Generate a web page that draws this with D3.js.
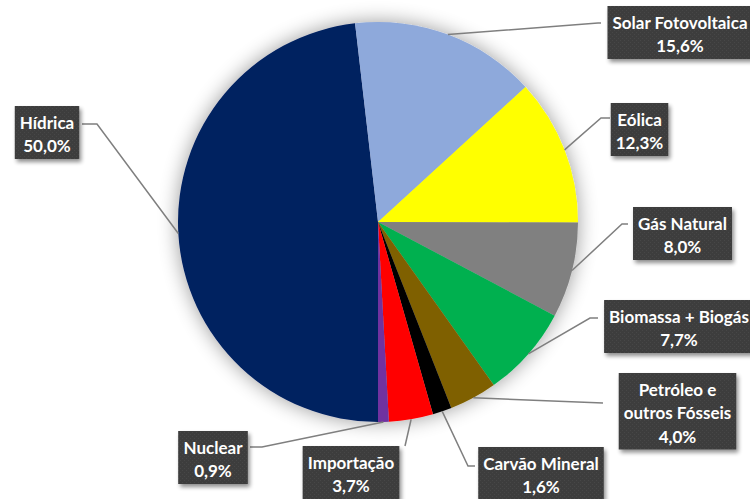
<!DOCTYPE html>
<html><head><meta charset="utf-8">
<script src="https://cdn.jsdelivr.net/npm/d3@7"></script>
<style>html,body{margin:0;padding:0;background:#fff;overflow:hidden}svg{display:block}</style>
</head><body>
<svg id="chart" width="750" height="499"></svg>
<script>
// ---- data ----
const categories = ["Hídrica","Solar Fotovoltaica","Eólica","Gás Natural","Biomassa + Biogás","Petróleo e outros Fósseis","Carvão Mineral","Importação","Nuclear"];
const values = [50.0,15.6,12.3,8.0,7.7,4.0,1.6,3.7,0.9];
const valueLabels = ["50,0%","15,6%","12,3%","8,0%","7,7%","4,0%","1,6%","3,7%","0,9%"];
const labelLines = [["Hídrica"],["Solar Fotovoltaica"],["Eólica"],["Gás Natural"],["Biomassa + Biogás"],["Petróleo e","outros Fósseis"],["Carvão Mineral"],["Importação"],["Nuclear"]];
const colors = ["#002060","#8EA9DB","#FFFF00","#808080","#00B050","#7F6000","#000000","#FF0000","#7030A0"];

// ---- layout (label boxes: center x, top y; leader elbow & attach points) ----
const boxCx = [47,680,639.5,682.5,679,677.5,541,351,213];
const boxTop = [106,6,103,207,300,373,447,446,431];
const elbows = [[97,124],[598,23],[601,118],[622,224],[590,318],[603,403],[468,466],[405,446],[262,447]];
const attach = [[82,124],[601,23],[610,118],[628,224],[598,318],[603,403],[475,466],[405,446],[250,447]];

const svg = d3.select("#chart");
const cx = 378, cy = 222, R = 200;
const defs = svg.append("defs");
const sh = defs.append("filter").attr("id","pieShadow").attr("x","-30%").attr("y","-30%").attr("width","160%").attr("height","160%");
sh.append("feGaussianBlur").attr("in","SourceAlpha").attr("stdDeviation",10).attr("result","b");
sh.append("feComponentTransfer").attr("in","b").attr("result","b2").append("feFuncA").attr("type","linear").attr("slope",0.4);
const m = sh.append("feMerge"); m.append("feMergeNode").attr("in","b2"); m.append("feMergeNode").attr("in","SourceGraphic");

const bs = defs.append("filter").attr("id","boxShadow").attr("x","-20%").attr("y","-20%").attr("width","150%").attr("height","160%");
bs.append("feGaussianBlur").attr("in","SourceAlpha").attr("stdDeviation",2).attr("result","b");
bs.append("feOffset").attr("in","b").attr("dx",2).attr("dy",3).attr("result","o");
bs.append("feComponentTransfer").attr("in","o").attr("result","o2").append("feFuncA").attr("type","linear").attr("slope",0.45);
const m2 = bs.append("feMerge"); m2.append("feMergeNode").attr("in","o2"); m2.append("feMergeNode").attr("in","SourceGraphic");

const pat = defs.append("pattern").attr("id","dots").attr("width",4).attr("height",4).attr("patternUnits","userSpaceOnUse");
pat.append("rect").attr("width",4).attr("height",4).attr("fill","#3D3D3D");
pat.append("rect").attr("x",0).attr("y",0).attr("width",1).attr("height",1).attr("fill","#474747");
pat.append("rect").attr("x",2).attr("y",2).attr("width",1).attr("height",1).attr("fill","#474747");

const pie = d3.pie().sort(null).value(d => d).startAngle(Math.PI).endAngle(3*Math.PI);
const arcs = pie(values);
const arc = d3.arc().innerRadius(0).outerRadius(R);

const g = svg.append("g").attr("transform",`translate(${cx},${cy})`).attr("filter","url(#pieShadow)");
g.selectAll("path").data(arcs).enter().append("path")
  .attr("d",arc).attr("fill",(d,i)=>colors[i]);

// leader lines
const lg = svg.append("g");
arcs.forEach((a,i)=>{
  const mid = (a.startAngle+a.endAngle)/2;
  const p0 = [cx + R*Math.sin(mid), cy - R*Math.cos(mid)];
  lg.append("polyline")
    .attr("points",[p0,elbows[i],attach[i]].map(p=>p.join(",")).join(" "))
    .attr("fill","none").attr("stroke","#7F7F7F").attr("stroke-width",1.5);
});

// label boxes
const fs = 17, lh = 23.5, pad = 5;
const lbl = svg.append("g");
categories.forEach((c,i)=>{
  const lines = labelLines[i].concat([valueLabels[i]]);
  const gg = lbl.append("g");
  const rect = gg.append("rect").attr("fill","url(#dots)").attr("filter","url(#boxShadow)");
  const t = gg.append("text").attr("font-family","Lato, 'Open Sans', sans-serif").attr("font-weight","bold")
    .attr("font-size",fs).attr("fill","#fff").attr("text-anchor","middle");
  lines.forEach((ln,j)=>{
    t.append("tspan").attr("x",boxCx[i]).attr("y",boxTop[i] + 5 + lh*j + lh/2).attr("dy","0.36em").text(ln);
  });
  const w = t.node().getBBox().width + 2*pad;
  const h = lines.length*lh + 6;
  rect.attr("x",boxCx[i]-w/2).attr("y",boxTop[i]).attr("width",w).attr("height",h);
});
</script>
</body></html>
